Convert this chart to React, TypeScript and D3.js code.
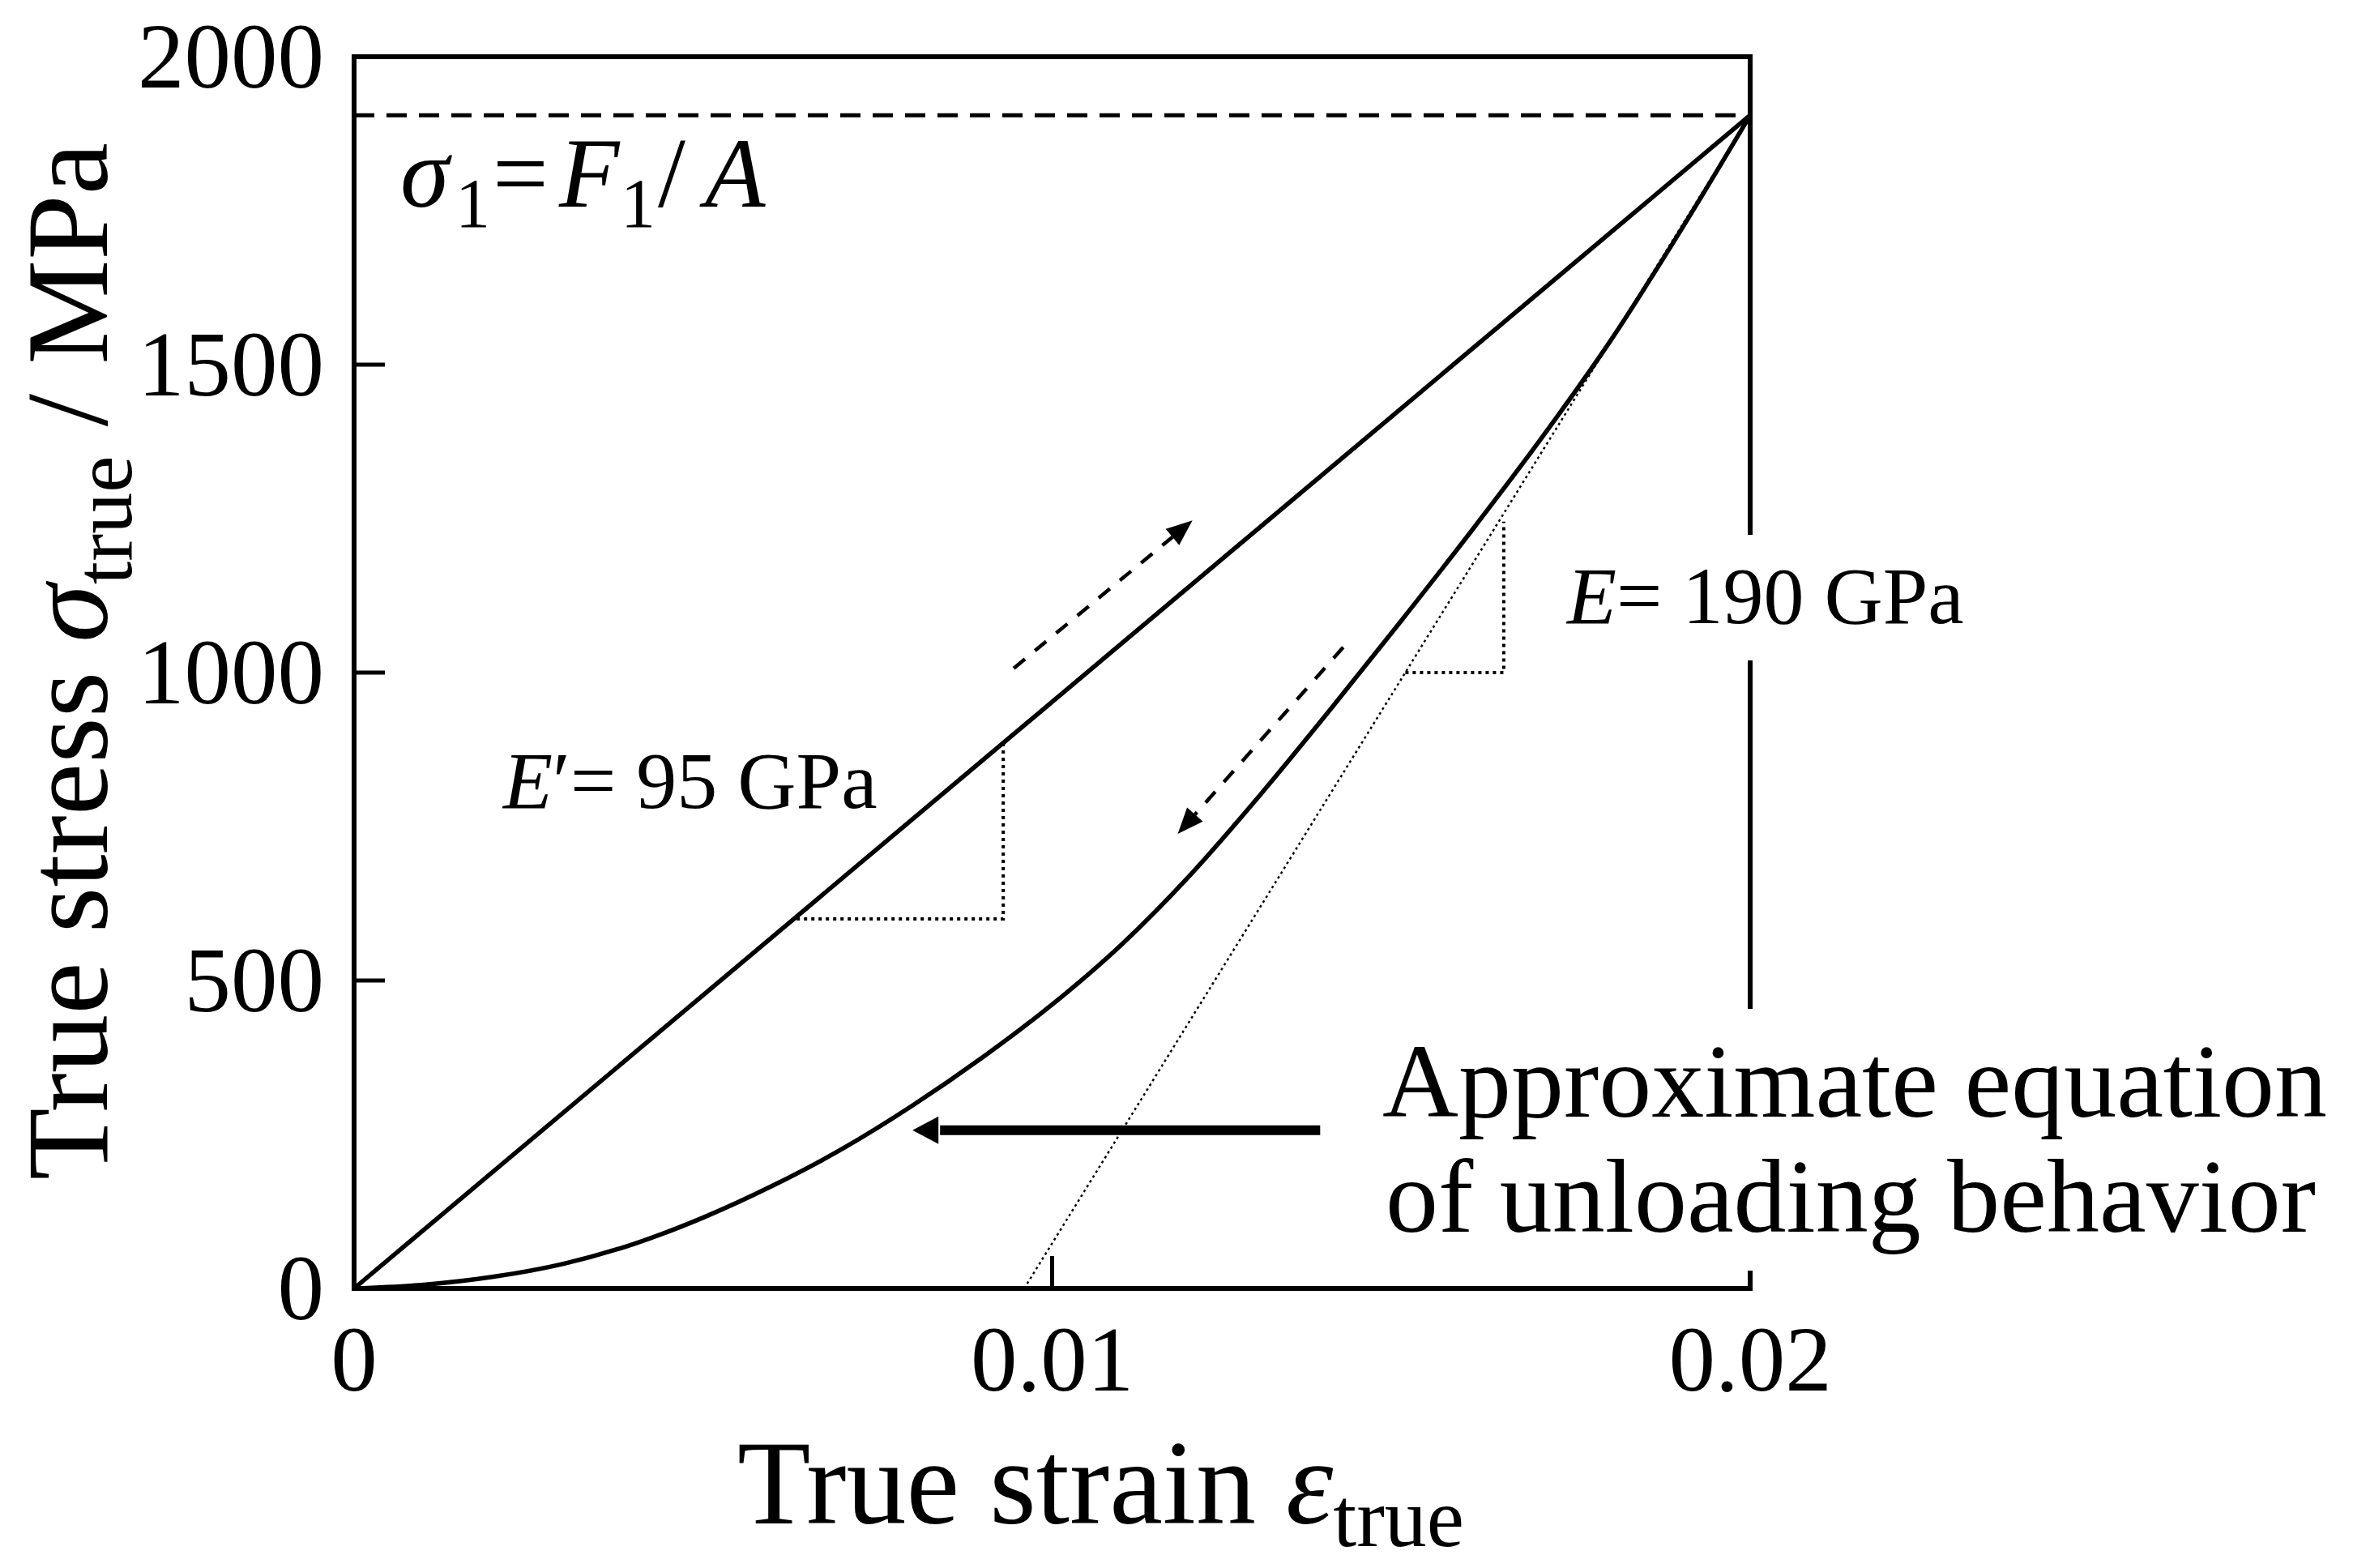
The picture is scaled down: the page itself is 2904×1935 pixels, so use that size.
import React, { useEffect } from 'react';
import * as d3 from 'd3';

const W = 2904;
const H = 1935;

const xDomain = [0, 0.02];
const yDomain = [0, 2000];
const xTicks = [0, 0.01, 0.02];
const xTickLabels = ['0', '0.01', '0.02'];
const xInnerTicks = [0.01];
const yTicks = [0, 500, 1000, 1500, 2000];
const yInnerTicks = [500, 1000, 1500];

const sigma1 = 1905;

// loading line (E' = 95 GPa)
const loadingStrain = [0, 0.02];
const loadingStress = [0, 1905];

// unloading curve (approximate equation)
const unloadStrain = [0, 0.001, 0.002, 0.003, 0.004, 0.005, 0.006, 0.007, 0.008, 0.009, 0.010, 0.011, 0.012, 0.013, 0.014, 0.015, 0.016, 0.017, 0.018, 0.019, 0.020];
const unloadStress = [0, 6, 19, 40, 72, 115, 167, 227, 297, 375, 461, 559, 674, 804, 942, 1084, 1229, 1379, 1539, 1717, 1905];

// tangent (E = 190 GPa)
const tangentStrain = [0.0096, 0.02];
const tangentStress = [0, 1905];

// slope triangles
const triLoadStrain = [0.00634, 0.0093, 0.0093];
const triLoadStress = [600, 600, 884];
const triUnloadStrain = [0.01506, 0.01647, 0.01647];
const triUnloadStress = [1000, 1000, 1245];

// dashed direction arrows [start, tip]
const upArrowStrain = [0.00945, 0.01201];
const upArrowStress = [1007, 1247];
const downArrowStrain = [0.01417, 0.0118];
const downArrowStress = [1041, 738];

// solid pointer arrow [start, tip]
const pointerStrain = [0.01384, 0.0080];
const pointerStress = [257, 257];

const FONT = "'Liberation Serif', 'Times New Roman', serif";

function head(x1: number, y1: number, x2: number, y2: number, L: number, hw: number) {
  const dx = x2 - x1, dy = y2 - y1;
  const len = Math.hypot(dx, dy);
  const ux = dx / len, uy = dy / len;
  const bx = x2 - ux * L, by = y2 - uy * L;
  const pts = `${x2},${y2} ${bx - uy * hw},${by + ux * hw} ${bx + uy * hw},${by - ux * hw}`;
  return { pts, bx, by };
}

export default function App() {
  useEffect(() => {
    document.body.style.margin = '0';
  }, []);

  const x = d3.scaleLinear().domain(xDomain).range([437, 2160]);
  const y = d3.scaleLinear().domain(yDomain).range([1590, 70]);

  const line = d3.line<[number, number]>().x(d => x(d[0])).y(d => y(d[1]));
  const smooth = d3.line<[number, number]>().x(d => x(d[0])).y(d => y(d[1])).curve(d3.curveMonotoneX);
  const zip = (a: number[], b: number[]) => a.map((v, i) => [v, b[i]] as [number, number]);

  const x0 = x(0), x1 = x(0.02), y0 = y(0), yTop = y(2000);

  const up = head(x(upArrowStrain[0]), y(upArrowStress[0]), x(upArrowStrain[1]), y(upArrowStress[1]), 32, 13);
  const down = head(x(downArrowStrain[0]), y(downArrowStress[0]), x(downArrowStrain[1]), y(downArrowStress[1]), 32, 13);
  const ptr = head(x(pointerStrain[0]), y(pointerStress[0]), x(pointerStrain[1]), y(pointerStress[1]), 32, 17);

  return (
    <svg width={W} height={H} viewBox={`0 0 ${W} ${H}`} style={{ position: 'absolute', left: 0, top: 0, display: 'block', background: '#fff' }}>
      <rect x={0} y={0} width={W} height={H} fill="#fff" />

      {/* frame */}
      <g stroke="#000" strokeWidth={6} fill="none" strokeLinecap="square">
        <line x1={x0} y1={yTop} x2={x1} y2={yTop} />
        <line x1={x0} y1={yTop} x2={x0} y2={y0} />
        <line x1={x0} y1={y0} x2={x1} y2={y0} />
        <line x1={x1} y1={yTop} x2={x1} y2={y0} />
      </g>
      {/* inward ticks */}
      <g stroke="#000" strokeWidth={5}>
        {yInnerTicks.map(t => (
          <line key={t} x1={x0} y1={y(t)} x2={x0 + 38} y2={y(t)} />
        ))}
        {xInnerTicks.map(t => (
          <line key={t} x1={x(t)} y1={y0} x2={x(t)} y2={y0 - 40} />
        ))}
      </g>

      {/* tick labels */}
      <g fontFamily={FONT} fontSize={115} fill="#000">
        {yTicks.map(t => (
          <text key={t} x={400} y={y(t) + 38} textAnchor="end">{t}</text>
        ))}
        {xTicks.map((t, i) => (
          <text key={t} x={x(t)} y={1716} textAnchor="middle">{xTickLabels[i]}</text>
        ))}
      </g>

      {/* sigma1 dashed line */}
      <line x1={x0} y1={y(sigma1)} x2={x1} y2={y(sigma1)} stroke="#000" strokeWidth={5} strokeDasharray="25 15" />

      {/* tangent dotted line */}
      <path d={line(zip(tangentStrain, tangentStress)) || ''} stroke="#000" strokeWidth={2.5} strokeDasharray="3 4" fill="none" />

      {/* slope triangles */}
      <path d={line(zip(triLoadStrain, triLoadStress)) || ''} stroke="#000" strokeWidth={4} strokeDasharray="4 5" fill="none" />
      <path d={line(zip(triUnloadStrain, triUnloadStress)) || ''} stroke="#000" strokeWidth={4} strokeDasharray="4 5" fill="none" />

      {/* curves */}
      <path d={line(zip(loadingStrain, loadingStress)) || ''} stroke="#000" strokeWidth={5.5} fill="none" />
      <path d={smooth(zip(unloadStrain, unloadStress)) || ''} stroke="#000" strokeWidth={5.5} fill="none" />

      {/* dashed arrows */}
      <line x1={x(upArrowStrain[0])} y1={y(upArrowStress[0])} x2={up.bx} y2={up.by} stroke="#000" strokeWidth={4.5} strokeDasharray="18 16" />
      <polygon points={up.pts} fill="#000" />
      <line x1={x(downArrowStrain[0])} y1={y(downArrowStress[0])} x2={down.bx} y2={down.by} stroke="#000" strokeWidth={4.5} strokeDasharray="18 16" />
      <polygon points={down.pts} fill="#000" />

      {/* pointer arrow */}
      <line x1={x(pointerStrain[0])} y1={y(pointerStress[0])} x2={ptr.bx + 2} y2={ptr.by} stroke="#000" strokeWidth={12} />
      <polygon points={ptr.pts} fill="#000" />

      {/* white backgrounds for labels crossing the frame */}
      <rect x={1925} y={660} width={495} height={155} fill="#fff" />
      <rect x={1690} y={1245} width={1205} height={323} fill="#fff" />

      {/* annotations */}
      <g fontFamily={FONT} fill="#000">
        <text y={255} fontSize={122}>
          <tspan x={494} fontStyle="italic">σ</tspan>
          <tspan x={562} y={280} fontSize={86}>1</tspan>
          <tspan x={608} y={255}>=</tspan>
          <tspan x={690} fontStyle="italic">F</tspan>
          <tspan x={766} y={280} fontSize={86}>1</tspan>
          <tspan x={812} y={255}>/</tspan>
          <tspan x={870} fontStyle="italic">A</tspan>
        </text>

        <text x={621} y={997} fontSize={100}>
          <tspan fontStyle="italic">E</tspan><tspan>′= 95 GPa</tspan>
        </text>

        <text x={1934} y={769} fontSize={100}>
          <tspan fontStyle="italic">E</tspan><tspan>= 190 GPa</tspan>
        </text>

        <text x={1706} y={1378} fontSize={130}>Approximate equation</text>
        <text x={1710} y={1520} fontSize={130}>of unloading behavior</text>

        {/* x axis label */}
        <text x={910} y={1880} fontSize={148}>
          <tspan>True strain </tspan>
          <tspan fontStyle="italic">ε</tspan>
          <tspan dy={28} fontSize={104}>true</tspan>
        </text>

        {/* y axis label */}
        <text transform="translate(132,1456) rotate(-90)" x={0} y={0} fontSize={145}>
          <tspan>True stress </tspan>
          <tspan fontStyle="italic">σ</tspan>
          <tspan dy={30} fontSize={102}>true</tspan>
          <tspan dy={-30}> / MPa</tspan>
        </text>
      </g>
    </svg>
  );
}
